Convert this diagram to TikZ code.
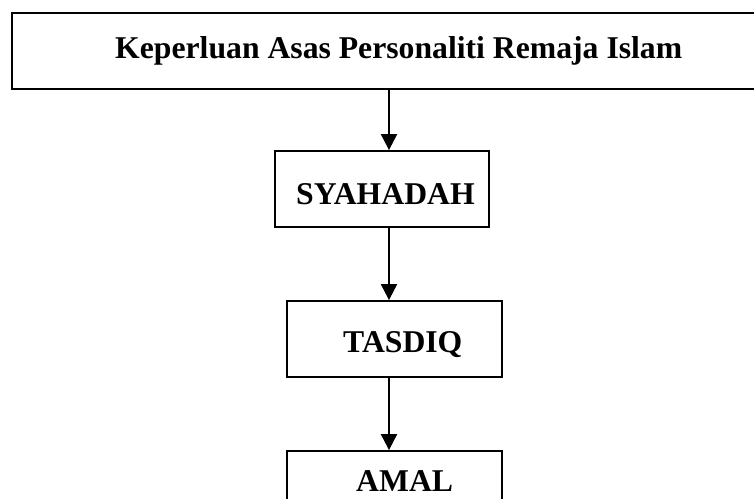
\documentclass[tikz,border=0pt]{standalone}
\usepackage{fontspec}
\setmainfont{Liberation Serif}
\usetikzlibrary{arrows.meta}
\begin{document}
\begin{tikzpicture}[x=1pt,y=-1pt,
  stepbox/.style={draw,line width=1.8pt,minimum width=215pt,minimum height=76pt,inner sep=0pt},
  title/.style={font=\fontsize{31.7}{38}\selectfont\bfseries,inner sep=0pt,anchor=base west},
  flow/.style={line width=2pt,-{Triangle[width=16pt,length=16pt]}}]
  \useasboundingbox (0,0) rectangle (754,498);
  \clip (0,0) rectangle (754,498);
  % header box (runs off the right edge)
  \node[stepbox,minimum width=775pt] (head) at (399.5,51) {};
  \node[title] (headtxt) at (115,58) {Keperluan Asas Personaliti Remaja Islam};
  % steps
  \node[stepbox,minimum width=214pt] (syah) at (382,189) {};
  \node[title] (syahtxt) at (296,204) {SYAHADAH};
  \node[stepbox] (tasd) at (394.5,339) {};
  \node[title] (tasdtxt) at (343,352) {TASDIQ};
  \node[stepbox] (amal) at (394.5,489) {};
  \node[title] (amaltxt) at (356,491) {AMAL};
  % connectors on a common vertical line
  \coordinate (ax) at (389,0);
  \draw[flow] (head.south -| ax) -- (syah.north -| ax);
  \draw[flow] (syah.south -| ax) -- (tasd.north -| ax);
  \draw[flow] (tasd.south -| ax) -- (amal.north -| ax);
\end{tikzpicture}
\end{document}
